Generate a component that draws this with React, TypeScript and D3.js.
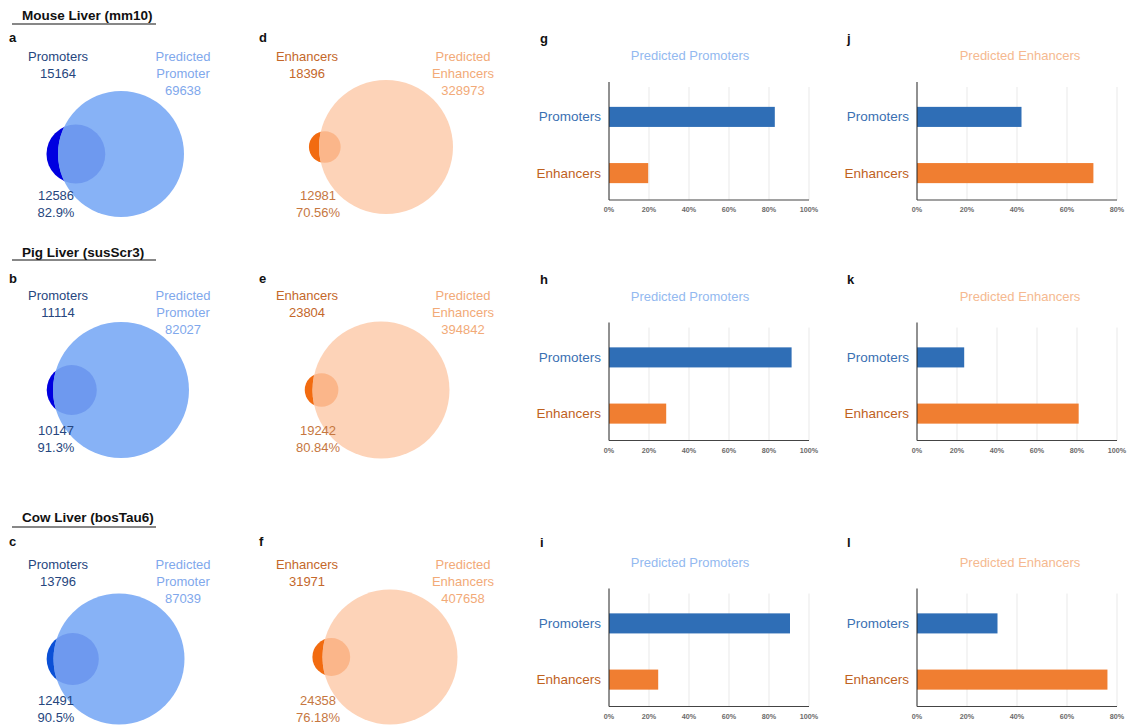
import React from "react";
import * as d3 from "d3";

// ---- data ----
const species = ["Mouse Liver (mm10)", "Pig Liver (susScr3)", "Cow Liver (bosTau6)"];
const vennLetters = [["a", "d"], ["b", "e"], ["c", "f"]];
const barLetters = [["g", "j"], ["h", "k"], ["i", "l"]];

const promoterCounts = [15164, 11114, 13796];
const predictedPromoterCounts = [69638, 82027, 87039];
const promoterOverlapCounts = [12586, 10147, 12491];
const promoterOverlapPct = [82.9, 91.3, 90.5];

const enhancerCounts = [18396, 23804, 31971];
const predictedEnhancerCounts = [328973, 394842, 407658];
const enhancerOverlapCounts = [12981, 19242, 24358];
const enhancerOverlapPct = [70.56, 80.84, 76.18];

const barCategories = ["Promoters", "Enhancers"];
// share (%) of known promoters / enhancers recovered by each predicted set
const enhancersInPredictedPromoters = [19.6, 28.6, 24.6];
const promotersInPredictedEnhancers = [41.8, 23.6, 32.2];
const predictedPromoterAxisMax = [100, 100, 100];
const predictedEnhancerAxisMax = [80, 100, 80];
const barTitles = ["Predicted Promoters", "Predicted Enhancers"];

// ---- layout ----
const W = 1127;
const H = 726;
const FONT = '"Liberation Sans", Arial, Helvetica, sans-serif';

const headerY = [20, 257, 522];
const underlineY = [24, 260, 527];
const letterY = [42, 283, 546];
const textTopY = [61, 300, 569];
const bottomTextY = [200, 435, 705];
const promoterCy = [154, 390, 659];
const enhancerCy = [147, 390, 657];
const promoterCx = [121, 121, 119];
const enhancerCx = [386, 381, 390];
const promoterR = [63, 68, 65.5];
const enhancerR = [67, 68.5, 67.5];

const barRowShift = [0, 240.5, 506.5];
const barAxisX = [609, 917];
const barTitleX = [690, 1020];
const barLetterX = [540, 847];
const barWidth = 200;

const promoterPalette = {
  small: ["#0000e0", "#0000e0", "#0b50d6"],
  big: "#87b2f6",
  overlap: "#6e99ef",
  label: "#26467e",
  predicted: "#7fa8ec",
  bottom: "#26467e",
};
const enhancerPalette = {
  small: ["#f26b10", "#f26b10", "#f26b10"],
  big: "#fdd3b8",
  overlap: "#fbb68a",
  label: "#c4672a",
  predicted: "#f2aa78",
  bottom: "#c6773f",
};

// area of the lens where two circles of radius r1, r2 at distance d intersect
function lensArea(r1: number, r2: number, d: number): number {
  if (d >= r1 + r2) return 0;
  if (d <= Math.abs(r1 - r2)) return Math.PI * Math.min(r1, r2) ** 2;
  const a1 = r1 * r1 * Math.acos((d * d + r1 * r1 - r2 * r2) / (2 * d * r1));
  const a2 = r2 * r2 * Math.acos((d * d + r2 * r2 - r1 * r1) / (2 * d * r2));
  const k = 0.5 * Math.sqrt((-d + r1 + r2) * (d + r1 - r2) * (d - r1 + r2) * (d + r1 + r2));
  return a1 + a2 - k;
}

// centre distance giving the requested overlap area
function solveDistance(r: number, R: number, target: number): number {
  let lo = Math.abs(R - r);
  let hi = R + r;
  for (let i = 0; i < 60; i++) {
    const mid = (lo + hi) / 2;
    if (lensArea(r, R, mid) > target) lo = mid;
    else hi = mid;
  }
  return (lo + hi) / 2;
}

type VennProps = {
  id: string;
  cx: number;
  cy: number;
  R: number;
  small: number;
  big: number;
  overlap: number;
  pct: number;
  smallColor: string;
  palette: typeof promoterPalette;
  leftName: string;
  rightLines: string[];
  leftX: number;
  rightX: number;
  bottomX: number;
  topY: number;
  bottomY: number;
};

function Venn(p: VennProps) {
  const rScale = d3.scaleSqrt().domain([0, p.big]).range([0, p.R]);
  const r = rScale(p.small);
  const targetArea = Math.PI * r * r * (p.overlap / p.small);
  const dist = solveDistance(r, p.R, targetArea);
  const sx = p.cx - dist;
  const fs = 13;
  return (
    <g>
      <defs>
        <clipPath id={p.id}>
          <circle cx={p.cx} cy={p.cy} r={p.R} />
        </clipPath>
      </defs>
      <circle cx={sx} cy={p.cy} r={r} fill={p.smallColor} />
      <circle cx={p.cx} cy={p.cy} r={p.R} fill={p.palette.big} />
      <circle cx={sx} cy={p.cy} r={r} fill={p.palette.overlap} clipPath={`url(#${p.id})`} />
      <g fontFamily={FONT} fontSize={fs} textAnchor="middle">
        <text x={p.leftX} y={p.topY} fill={p.palette.label}>{p.leftName}</text>
        <text x={p.leftX} y={p.topY + 17} fill={p.palette.label}>{d3.format("d")(p.small)}</text>
        {p.rightLines.map((t, i) => (
          <text key={i} x={p.rightX} y={p.topY + 17 * i} fill={p.palette.predicted}>{t}</text>
        ))}
        <text x={p.rightX} y={p.topY + 34} fill={p.palette.predicted}>{d3.format("d")(p.big)}</text>
        <text x={p.bottomX} y={p.bottomY} fill={p.palette.bottom}>{d3.format("d")(p.overlap)}</text>
        <text x={p.bottomX} y={p.bottomY + 17} fill={p.palette.bottom}>{`${p.pct}%`}</text>
      </g>
    </g>
  );
}

type BarProps = {
  x0: number;
  dy: number;
  max: number;
  values: number[];
  title: string;
  titleX: number;
  titleColor: string;
};

const barColors = ["#2f6eb6", "#f07e31"];
const barLabelColors = ["#3a70b2", "#bf621e"];

function BarPanel(p: BarProps) {
  const x = d3.scaleLinear().domain([0, p.max]).range([p.x0, p.x0 + barWidth]);
  const y = d3
    .scaleBand<string>()
    .domain(barCategories)
    .range([90 + p.dy, 200 + p.dy])
    .paddingInner(0.643)
    .paddingOuter(0.3);
  const ticks = x.ticks(5);
  const axisTop = 82 + p.dy;
  const axisBottom = 200 + p.dy;
  return (
    <g fontFamily={FONT}>
      <text x={p.titleX} y={60 + p.dy} textAnchor="middle" fontSize={13} fill={p.titleColor}>
        {p.title}
      </text>
      {ticks.filter((t) => t > 0).map((t) => (
        <line key={t} x1={x(t)} x2={x(t)} y1={87 + p.dy} y2={axisBottom} stroke="#e9e9e9" strokeWidth={1} />
      ))}
      {barCategories.map((c, i) => (
        <rect
          key={c}
          x={x(0)}
          y={y(c)}
          width={x(p.values[i]) - x(0)}
          height={y.bandwidth()}
          fill={barColors[i]}
        />
      ))}
      <line x1={p.x0} x2={p.x0} y1={axisTop} y2={axisBottom} stroke="#222" strokeWidth={1} />
      <line x1={p.x0} x2={p.x0 + barWidth} y1={axisBottom} y2={axisBottom} stroke="#444" strokeWidth={1.2} />
      {barCategories.map((c, i) => (
        <text
          key={c}
          x={p.x0 - 8}
          y={(y(c) as number) + y.bandwidth() / 2}
          dy="0.33em"
          textAnchor="end"
          fontSize={13.5}
          fill={barLabelColors[i]}
        >
          {c}
        </text>
      ))}
      {ticks.map((t) => (
        <text key={t} x={x(t)} y={212 + p.dy} textAnchor="middle" fontSize={7.2} fontWeight={600} fill="#6a6a6a">
          {`${t}%`}
        </text>
      ))}
    </g>
  );
}

export default function App() {
  return (
    <svg
      width={W}
      height={H}
      viewBox={`0 0 ${W} ${H}`}
      style={{ position: "absolute", left: 0, top: 0, background: "#fff" }}
    >
      <rect width={W} height={H} fill="#fff" />
      {species.map((name, row) => (
        <g key={name}>
          <text x={22} y={headerY[row]} fontFamily={FONT} fontWeight="bold" fontSize={13.5} fill="#111">
            {name}
          </text>
          <line x1={12} x2={156} y1={underlineY[row]} y2={underlineY[row]} stroke="#111" strokeWidth={1.2} />
          <g fontFamily={FONT} fontWeight="bold" fontSize={13} fill="#111">
            <text x={9} y={letterY[row]}>{vennLetters[row][0]}</text>
            <text x={259} y={letterY[row]}>{vennLetters[row][1]}</text>
            <text x={barLetterX[0]} y={letterY[row] + 1}>{barLetters[row][0]}</text>
            <text x={barLetterX[1]} y={letterY[row] + 1}>{barLetters[row][1]}</text>
          </g>
          <Venn
            id={`clip-p-${row}`}
            cx={promoterCx[row]}
            cy={promoterCy[row]}
            R={promoterR[row]}
            small={promoterCounts[row]}
            big={predictedPromoterCounts[row]}
            overlap={promoterOverlapCounts[row]}
            pct={promoterOverlapPct[row]}
            smallColor={promoterPalette.small[row]}
            palette={promoterPalette}
            leftName="Promoters"
            rightLines={["Predicted", "Promoter"]}
            leftX={58}
            rightX={183}
            bottomX={56}
            topY={textTopY[row]}
            bottomY={bottomTextY[row]}
          />
          <Venn
            id={`clip-e-${row}`}
            cx={enhancerCx[row]}
            cy={enhancerCy[row]}
            R={enhancerR[row]}
            small={enhancerCounts[row]}
            big={predictedEnhancerCounts[row]}
            overlap={enhancerOverlapCounts[row]}
            pct={enhancerOverlapPct[row]}
            smallColor={enhancerPalette.small[row]}
            palette={enhancerPalette}
            leftName="Enhancers"
            rightLines={["Predicted", "Enhancers"]}
            leftX={307}
            rightX={463}
            bottomX={318}
            topY={textTopY[row]}
            bottomY={bottomTextY[row]}
          />
          <BarPanel
            x0={barAxisX[0]}
            dy={barRowShift[row]}
            max={predictedPromoterAxisMax[row]}
            values={[promoterOverlapPct[row], enhancersInPredictedPromoters[row]]}
            title={barTitles[0]}
            titleX={barTitleX[0]}
            titleColor="#93b9f0"
          />
          <BarPanel
            x0={barAxisX[1]}
            dy={barRowShift[row]}
            max={predictedEnhancerAxisMax[row]}
            values={[promotersInPredictedEnhancers[row], enhancerOverlapPct[row]]}
            title={barTitles[1]}
            titleX={barTitleX[1]}
            titleColor="#f5b990"
          />
        </g>
      ))}
    </svg>
  );
}
